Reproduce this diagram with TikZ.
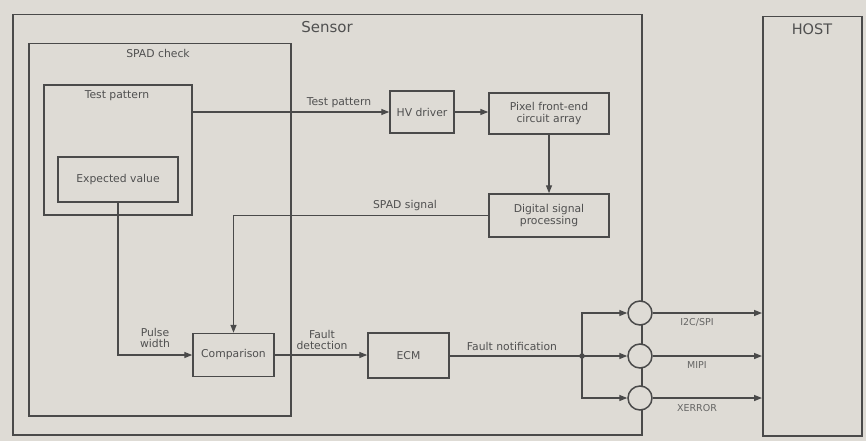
\documentclass[tikz,border=0pt]{standalone}
\usepackage{fontspec}
\setmainfont{DejaVu Sans}
\usetikzlibrary{arrows.meta}
\definecolor{bg}{HTML}{DEDBD5}
\definecolor{ln}{HTML}{4A4A4A}
\definecolor{tx}{HTML}{505050}
\tikzset{
  blk/.style={draw=ln, line width=1.5pt, minimum width=#1, inner sep=0pt},
  txt/.style={text=tx, font=\fontsize{10.8}{11.5}\selectfont, inner sep=0pt, align=center},
  small/.style={text=tx!85!bg, font=\fontsize{9.5}{10}\selectfont, inner sep=0pt},
  arr/.style={draw=ln, line width=1.4pt, -{Triangle[length=8pt,width=6pt]}},
  ln/.style={draw=ln, line width=1.4pt},
  port/.style={circle, draw=ln, line width=1.5pt, fill=bg, minimum size=24pt, inner sep=0pt}
}
\begin{document}
\begin{tikzpicture}[x=1pt,y=-1pt]
\fill[bg] (0,0) rectangle (866,441);
\useasboundingbox (0,0) rectangle (866,441);
% Sensor box
\node[blk=629pt, minimum height=420pt, anchor=north west] (sensor) at (12,14) {};
\node[txt, font=\fontsize{15}{17}\selectfont] (sensorlbl) at (327,27) {Sensor};
% HOST
\node[blk=99pt, minimum height=419pt, anchor=north west] (host) at (762,16) {};
\node[txt, font=\fontsize{14.5}{17}\selectfont] (hostlbl) at (812,29) {HOST};
% SPAD check
\node[blk=262pt, minimum height=372pt, anchor=north west] (spad) at (28,43) {};
\node[txt] (spadlbl) at (158,53) {SPAD check};
% Test pattern box
\node[blk=148pt, minimum height=130pt] (tp) at (118,150) {};
\node[txt] (tplbl) at (117,96) {Test pattern};
% Expected value
\node[blk=120pt, minimum height=45pt, txt] (ev) at (118,179.5) {Expected value};
% HV driver
\node[blk=64pt, minimum height=42pt, txt] (hv) at (422,112) {HV driver};
% Pixel front-end
\node[blk=120pt, minimum height=41pt, txt] (pix) at (549,113.5) {Pixel front-end\\circuit array};
% DSP
\node[blk=120pt, minimum height=43pt, txt] (dsp) at (549,215.5) {Digital signal\\processing};
% Comparison
\node[blk=81pt, minimum height=43pt, txt] (cmp) at (233.5,355) {Comparison};
% ECM
\node[blk=81pt, minimum height=45pt, txt] (ecm) at (408.5,355.5) {ECM};
% ports
\node[port] (c1) at (640,313) {};
\node[port] (c2) at (640,356) {};
\node[port] (c3) at (640,398) {};
\coordinate (j) at (582,356);
% connectors
\draw[arr] (hv.west -| tp.east) -- (hv.west);
\node[txt] (tpl) at (339,103) {Test pattern};
\draw[arr] (hv.east) -- (hv.east -| pix.west);
\draw[arr] (pix.south) -- (dsp.north);
\draw[arr] (dsp.west) -| (cmp.north);
\node[txt] (spl) at (405,206) {SPAD signal};
\draw[arr] (ev.south) |- (cmp.west);
\node[txt] (pwl) at (155,338) {Pulse\\width};
\draw[arr] (cmp.east) -- (cmp.east -| ecm.west);
\node[txt] (fdl) at (322,340) {Fault\\detection};
\draw[ln] (ecm.east |- j) -- (j);
\node[txt] (fnl) at (512,346) {Fault notification};
\fill[ln] (j) circle (2pt);
\draw[arr] (j) |- (c1.west);
\draw[arr] (j) -- (c2.west);
\draw[arr] (j) |- (c3.west);
\draw[arr] (c1.east) -- (c1.east -| host.west);
\draw[arr] (c2.east) -- (c2.east -| host.west);
\draw[arr] (c3.east) -- (c3.east -| host.west);
\node[small] (l1) at (697,322) {I2C/SPI};
\node[small] (l2) at (697,365) {MIPI};
\node[small] (l3) at (697,408) {XERROR};
\end{tikzpicture}
\end{document}
